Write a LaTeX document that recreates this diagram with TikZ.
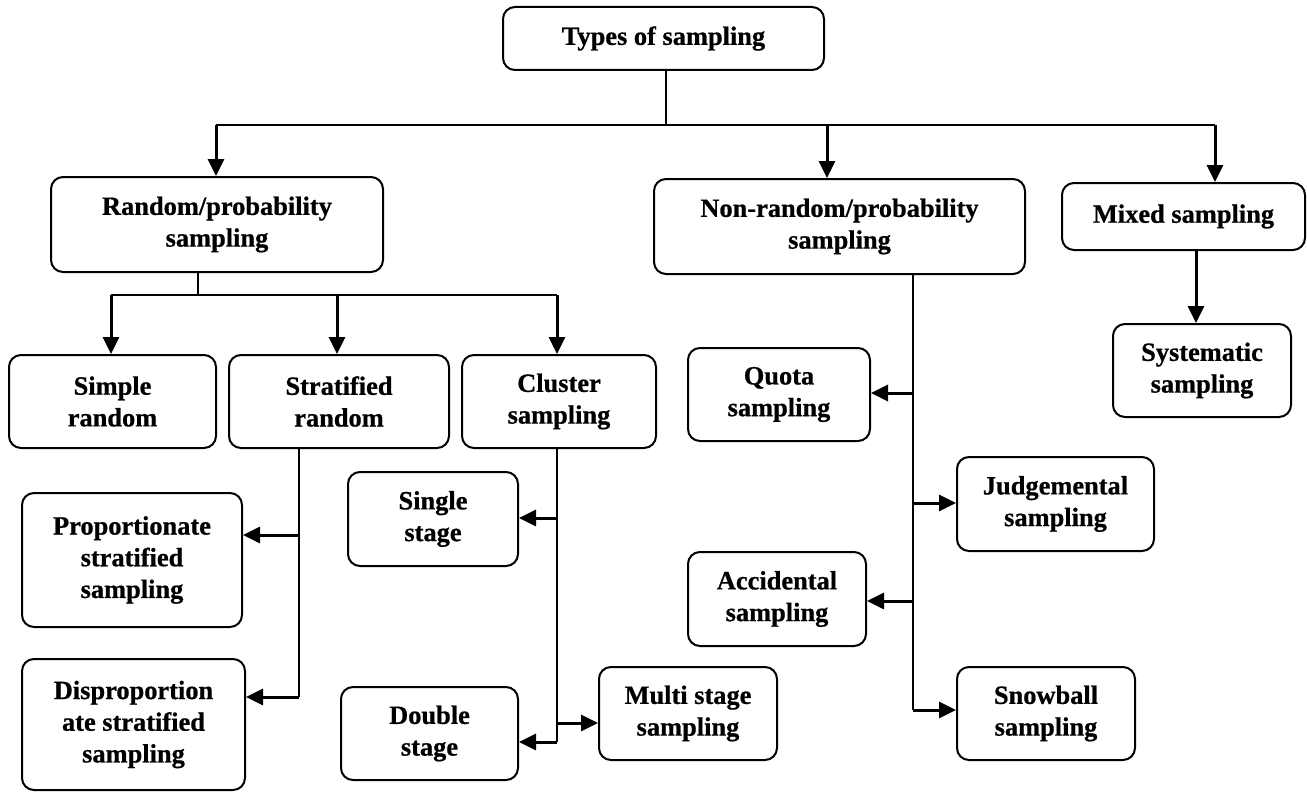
\documentclass[tikz,border=0pt]{standalone}
\usepackage{fontspec}
\setmainfont[BoldFeatures={FakeBold=0.7}]{Liberation Serif}
\usetikzlibrary{arrows.meta}

\tikzset{
  box/.style={draw, line width=2pt, rounded corners=12pt, align=center,
    inner sep=0pt, font=\fontsize{26.4}{31.7}\selectfont\bfseries},
  stem/.style={line width=1.5pt},
  trunk/.style={line width=2pt},
  bus/.style={line width=2.4pt},
  arr/.style={line width=3pt, -{Triangle[width=16pt,length=17pt]}},
}

\newcommand{\bx}[6]{% name, x-center, y-center, width, height, text
  \node[box, minimum width=#4pt, minimum height=#5pt] (#1) at (#2,#3) {#6};}

\begin{document}
\begin{tikzpicture}[x=1pt,y=-1pt]
  \useasboundingbox (0,0) rectangle (1307,792);

  % boxes
  \bx{top}{663.5}{38.5}{321}{63}{Types of sampling}
  \bx{rand}{217}{224.5}{332}{95}{Random/probability\\sampling}
  \bx{nonrand}{839.5}{226.5}{371}{95}{Non-random/probability\\sampling}
  \bx{mixed}{1183.5}{216.5}{243}{67}{Mixed sampling}
  \bx{syst}{1202}{370.5}{178}{93}{Systematic\\sampling}
  \bx{simple}{112.5}{401.5}{207}{93}{Simple\\random}
  \bx{strat}{339}{401.5}{220}{93}{Stratified\\random}
  \bx{cluster}{559}{401.5}{194}{93}{Cluster\\sampling}
  \bx{prop}{132}{560}{220}{134}{Proportionate\\stratified\\sampling}
  \bx{disprop}{133.5}{724.5}{223}{131}{Disproportion\\ate stratified\\sampling}
  \bx{single}{433}{519}{170}{94}{Single\\stage}
  \bx{double}{429.5}{733.5}{177}{93}{Double\\stage}
  \bx{multi}{688}{713.5}{178}{93}{Multi stage\\sampling}
  \bx{quota}{779}{394.5}{182}{93}{Quota\\sampling}
  \bx{judg}{1055.5}{504}{197}{94}{Judgemental\\sampling}
  \bx{accid}{777}{599}{178}{94}{Accidental\\sampling}
  \bx{snow}{1046}{713.5}{178}{93}{Snowball\\sampling}

  % junction points
  \coordinate (b1) at (216,125);
  \coordinate (b2) at (827,125);
  \coordinate (b3) at (1215,125);
  \coordinate (ms) at (1196,250);
  \coordinate (r0) at (198,295);
  \coordinate (r1) at (111,295);
  \coordinate (r2) at (337,295);
  \coordinate (r3) at (557,295);
  \coordinate (s1) at (298.5,535);
  \coordinate (s2) at (298.5,697);
  \coordinate (c1) at (557,518);
  \coordinate (c2) at (557,723);
  \coordinate (c3) at (557,742);
  \coordinate (n1) at (913,393);
  \coordinate (n2) at (913,503);
  \coordinate (n3) at (913,601);
  \coordinate (n4) at (913,710);

  % top level
  \draw[stem] (top.south -| 666,0) -- (b1 -| 666,0);
  \draw[bus] (b1) -- (b3);
  \draw[arr] (b1) -- (b1 |- rand.north);
  \draw[arr] (b2) -- (b2 |- nonrand.north);
  \draw[arr] (b3) -- (b3 |- mixed.north);

  % mixed sampling
  \draw[arr] (ms) -- (ms |- syst.north);

  % random / probability sampling
  \draw[stem] (r0 |- rand.south) -- (r0);
  \draw[bus] (r1) -- (r3);
  \draw[arr] (r1) -- (r1 |- simple.north);
  \draw[arr] (r2) -- (r2 |- strat.north);
  \draw[arr] (r3) -- (r3 |- cluster.north);

  % stratified random
  \draw[trunk] (s1 |- strat.south) -- (s2);
  \draw[arr] (s1) -- (s1 -| prop.east);
  \draw[arr] (s2) -- (s2 -| disprop.east);

  % cluster sampling
  \draw[trunk] (c1 |- cluster.south) -- (c3);
  \draw[arr] (c1) -- (c1 -| single.east);
  \draw[arr] (c2) -- (c2 -| multi.west);
  \draw[arr] (c3) -- (c3 -| double.east);

  % non-random / probability sampling
  \draw[trunk] (n1 |- nonrand.south) -- (n4);
  \draw[arr] (n1) -- (n1 -| quota.east);
  \draw[arr] (n2) -- (n2 -| judg.west);
  \draw[arr] (n3) -- (n3 -| accid.east);
  \draw[arr] (n4) -- (n4 -| snow.west);
\end{tikzpicture}
\end{document}
